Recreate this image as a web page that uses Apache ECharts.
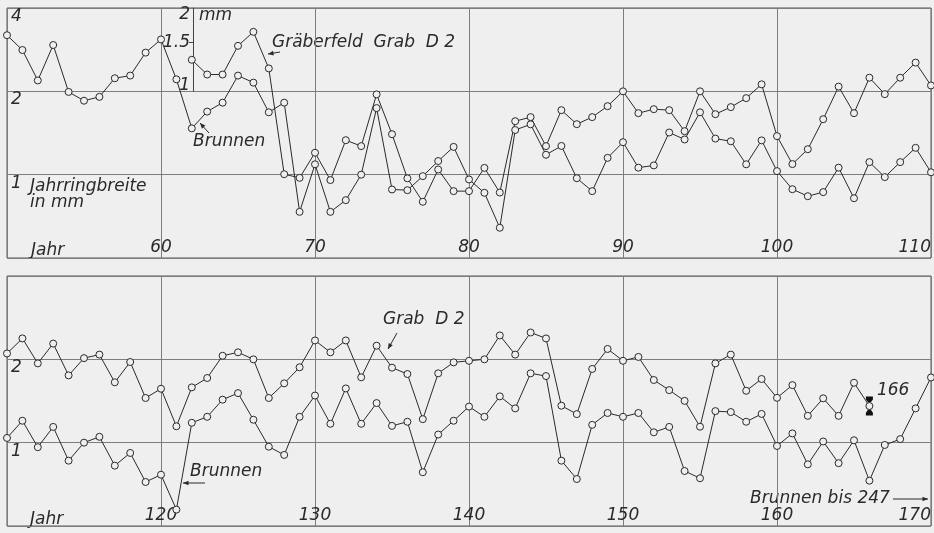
<!DOCTYPE html>
<html><head><meta charset="utf-8">
<script src="https://cdn.jsdelivr.net/npm/echarts@6/dist/echarts.min.js"></script>
<style>html,body{margin:0;padding:0;background:#efefef}#c{width:934px;height:533px}</style>
</head><body><div id="c"></div>
<script>
// ---- data (ring widths in mm) ----
const topBrunnenStart = 50;
const topBrunnen = [3.19,2.82,2.19,2.94,1.99,1.85,1.91,2.23,2.28,2.76,3.08,
  2.21,1.47,1.69,1.82,2.28,2.15,1.68,1.82,0.734,1.09,
  0.734,0.809,1.00,1.74,0.884,0.879,0.988,1.12,1.26,0.961,
  0.86,0.643,1.45,1.52,1.18,1.27,0.971,0.872,1.15,1.31,
  1.06,1.08,1.42,1.34,1.68,1.35,1.32,1.09,1.33,1.03,
  0.886,0.836,0.865,1.06,0.822,1.11,0.98,1.11,1.25,1.02];
const topGrabStart = 62;
const topGrab = [1.30,1.15,1.15,1.46,1.64,1.21,0.502,0.487,0.600,
  0.478,0.666,0.634,0.975,0.70,0.485,0.399,0.522,0.436,0.436,
  0.529,0.431,0.78,0.807,0.634,0.855,0.761,0.807,0.884,1.00,
  0.834,0.862,0.855,0.718,1.00,0.827,0.877,0.945,1.06,0.689,
  0.546,0.618,0.793,1.04,0.834,1.12,0.977,1.12,1.27,1.05];
const botBrunnenStart = 110;
const botBrunnen = [1.04,1.20,0.963,1.14,0.861,1.00,1.05,0.826,0.918,0.721,
  0.766,0.573,1.18,1.24,1.43,1.51,1.21,0.967,0.903,1.24,
  1.48,1.17,1.57,1.17,1.39,1.15,1.19,0.782,1.07,1.20,
  1.35,1.24,1.47,1.33,1.78,1.74,0.861,0.739,1.16,1.28,
  1.24,1.28,1.09,1.14,0.79,0.744,1.30,1.29,1.19,1.27,
  0.973,1.08,0.835,1.01,0.843,1.02,0.729,0.981,1.03,1.33,
  1.72];
const botGrabStart = 110;
const botGrab = [1.05,1.19,0.967,1.14,0.875,1.01,1.04,0.826,0.978,0.725,
  0.783,0.573,0.792,0.856,1.03,1.06,1.00,0.725,0.819,0.936,
  1.17,1.06,1.17,0.861,1.12,0.933,0.885,0.608,0.89,0.975,
  0.988,1.00,1.22,1.04,1.25,1.19,0.68,0.634,0.923,1.09,
  0.988,1.02,0.842,0.774,0.708,0.571,0.967,1.04,0.77,0.849,
  0.726,0.807,0.625,0.723,0.625,0.823,0.678];
const markYear = 166;
const topYTicks = [1, 2, 4];
const botYTicks = [1, 2];
const insetTicks = [1, 1.5, 2];

// ---- style ----
const BG = '#efefef', INK = '#2a2a2a', GRIDC = '#7d7d7d';
const FONT = '"DejaVu Sans", sans-serif';
const txt = {fontFamily: FONT, fontStyle: 'italic', fontSize: 17, color: INK};
const pairs = (start, arr) => arr.map((v, i) => [start + i, v]);

function xAx(grid, min, max) {
  return {type:'value', gridIndex:grid, min, max, interval:10,
    axisLine:{show:false}, axisTick:{show:false},
    splitLine:{show:true, lineStyle:{color:GRIDC, width:1}},
    axisLabel:Object.assign({inside:true, margin:2, showMinLabel:false, alignMaxLabel:'right'}, txt)};
}
function yMain(grid, ticks) {
  return {type:'log', logBase:2, gridIndex:grid, min:0.5, max:4,
    axisLine:{show:false}, axisTick:{show:false},
    splitLine:{show:true, lineStyle:{color:GRIDC, width:1}},
    axisLabel:Object.assign({inside:true, margin:4, verticalAlign:'top', customValues:ticks}, txt)};
}
function ySecond(grid) {
  return {type:'log', logBase:2, gridIndex:grid, min:0.25, max:2, show:false, splitLine:{show:false}};
}
function lineSeries(xi, yi, data, extra) {
  return Object.assign({type:'line', xAxisIndex:xi, yAxisIndex:yi, data,
    symbol:'circle', symbolSize:7, showAllSymbol:true, animation:false, silent:true,
    lineStyle:{color:INK, width:1},
    itemStyle:{color:BG, borderColor:INK, borderWidth:1}}, extra || {});
}
function tx(text, x, y) {
  return {type:'text', x, y, silent:true, style:{text, fill:INK,
    font:'italic 17px ' + FONT, verticalAlign:'middle', align:'left'}};
}
function arrow(x1, y1, x2, y2) {
  const a = Math.atan2(y2 - y1, x2 - x1), L = 6, w = 0.4;
  return {type:'group', silent:true, children:[
    {type:'line', shape:{x1, y1, x2, y2}, style:{stroke:INK, lineWidth:1}},
    {type:'polygon', shape:{points:[[x2, y2],
      [x2 - L*Math.cos(a - w), y2 - L*Math.sin(a - w)],
      [x2 - L*Math.cos(a + w), y2 - L*Math.sin(a + w)]]}, style:{fill:INK}}]};
}

const chart = echarts.init(document.getElementById('c'), null, {renderer:'canvas'});
chart.setOption({
  backgroundColor: BG,
  animation: false,
  grid: [
    {left:7, top:8, width:927, height:250, show:true, borderColor:'#555', borderWidth:1},
    {left:7, top:276, width:927, height:250, show:true, borderColor:'#555', borderWidth:1},
    {left:193, top:8, width:20, height:83.3, show:false}
  ],
  xAxis: [xAx(0, 50, 110), xAx(1, 110, 170),
    {type:'value', gridIndex:2, min:0, max:1, show:false}],
  yAxis: [yMain(0, topYTicks), ySecond(0), yMain(1, botYTicks), ySecond(1),
    {type:'log', logBase:2, gridIndex:2, min:1, max:2,
     axisLine:{show:true, lineStyle:{color:'#444', width:1}},
     axisTick:{show:true, customValues:[1.5], length:4, lineStyle:{color:'#444'}},
     splitLine:{show:false},
     axisLabel:Object.assign({customValues:insetTicks, margin:3,
       formatter: v => v >= 2 ? '{t|2}' : (v <= 1 ? '{b|1}' : '1.5'),
       rich:{t:Object.assign({padding:[14,0,0,0]}, txt), b:Object.assign({padding:[0,0,12,0]}, txt)}}, txt),
     name:'mm', nameLocation:'end', nameGap:-8,
     nameTextStyle:Object.assign({align:'left', verticalAlign:'middle', padding:[0,0,0,6]}, txt)}
  ],
  series: [
    lineSeries(0, 0, pairs(topBrunnenStart, topBrunnen), {name:'Brunnen'}),
    lineSeries(0, 1, pairs(topGrabStart, topGrab), {name:'Gräberfeld Grab D 2'}),
    lineSeries(1, 2, pairs(botBrunnenStart, botBrunnen), {name:'Brunnen'}),
    lineSeries(1, 3, pairs(botGrabStart, botGrab), {name:'Grab D 2',
      markPoint:{silent:true, animation:false, data:[{coord:[markYear, botGrab[markYear - botGrabStart]],
        symbol:'path://M0,0 H10 V3 L7,6 H3 L0,3 Z M3,14 H7 L10,17 V20 H0 V17 Z',
        symbolSize:[7,19], symbolKeepAspect:false,
        itemStyle:{color:'#111'},
        label:Object.assign({show:true, position:'right', offset:[-1,-15], formatter:String(markYear)}, txt)}]}})
  ],
  graphic: [
    tx('Gräberfeld  Grab  D 2', 272, 43),
    arrow(280, 52, 268, 54),
    tx('Brunnen', 193, 142),
    arrow(209, 133, 200, 123),
    tx('Jahrringbreite', 30, 187),
    tx('in mm', 30, 203),
    tx('Jahr', 31, 251),
    tx('Jahr', 30, 520),
    tx('Grab  D 2', 383, 320),
    arrow(397, 333, 388, 349),
    tx('Brunnen', 190, 472),
    arrow(205, 483, 183, 483),
    tx('Brunnen bis 247', 750, 499),
    arrow(893, 499, 928, 499)
  ]
});
</script></body></html>
